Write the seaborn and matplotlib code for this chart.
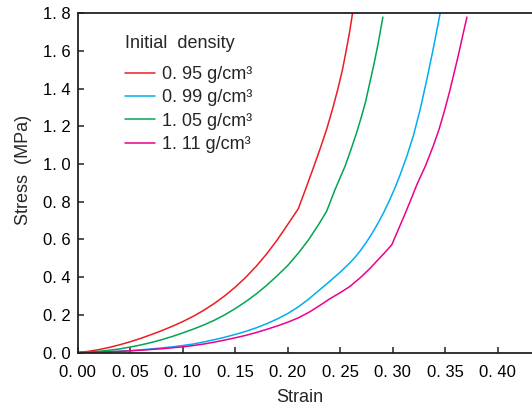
import pandas as pd
import matplotlib
matplotlib.use('Agg')
import matplotlib.pyplot as plt
import seaborn as sns

densities = ['0. 95 g/cm³', '0. 99 g/cm³', '1. 05 g/cm³', '1. 11 g/cm³']
colors = ['#ED1C24', '#00AEEF', '#00A651', '#EC008C']

# values
strain_095 = [0, 0.01, 0.02, 0.03, 0.04, 0.05, 0.06, 0.07, 0.08, 0.09, 0.10, 0.11, 0.12, 0.13, 0.14, 0.15,
              0.16, 0.17, 0.18, 0.19, 0.20, 0.21, 0.217, 0.224, 0.231, 0.237, 0.2425, 0.2475, 0.252, 0.2555,
              0.2588, 0.2616]
stress_095 = [0, 0.006, 0.015, 0.027, 0.041, 0.057, 0.075, 0.095, 0.116, 0.139, 0.164, 0.192, 0.224, 0.260,
              0.301, 0.347, 0.399, 0.458, 0.524, 0.598, 0.680, 0.763, 0.868, 0.975, 1.085, 1.185, 1.290, 1.395,
              1.500, 1.600, 1.700, 1.800]

strain_099 = [0, 0.01, 0.02, 0.03, 0.04, 0.05, 0.06, 0.07, 0.08, 0.09, 0.10, 0.11, 0.12, 0.13, 0.14, 0.15,
              0.16, 0.17, 0.18, 0.19, 0.20, 0.21, 0.22, 0.23, 0.24, 0.25, 0.259, 0.264, 0.269, 0.275, 0.28,
              0.285, 0.291, 0.296, 0.3015, 0.307, 0.313, 0.3196, 0.326, 0.332, 0.338, 0.345]
stress_099 = [0, 0.001, 0.002, 0.004, 0.007, 0.010, 0.014, 0.019, 0.024, 0.030, 0.037, 0.045, 0.056, 0.068,
              0.081, 0.096, 0.112, 0.131, 0.153, 0.178, 0.207, 0.242, 0.284, 0.331, 0.378, 0.427, 0.475, 0.505,
              0.540, 0.587, 0.630, 0.678, 0.740, 0.798, 0.867, 0.944, 1.037, 1.152, 1.290, 1.440, 1.600, 1.800]

strain_105 = [0, 0.01, 0.02, 0.03, 0.04, 0.05, 0.06, 0.07, 0.08, 0.09, 0.10, 0.11, 0.12, 0.13, 0.14, 0.15,
              0.16, 0.17, 0.18, 0.19, 0.20, 0.21, 0.22, 0.23, 0.237, 0.245, 0.2546, 0.260, 0.2657, 0.270,
              0.274, 0.278, 0.282, 0.286, 0.2905]
stress_105 = [0, 0.002, 0.006, 0.012, 0.019, 0.029, 0.040, 0.053, 0.068, 0.085, 0.104, 0.124, 0.146, 0.171,
              0.200, 0.233, 0.270, 0.311, 0.357, 0.408, 0.462, 0.527, 0.600, 0.685, 0.750, 0.865, 0.990, 1.075,
              1.170, 1.250, 1.330, 1.430, 1.530, 1.640, 1.780]

strain_111 = [0, 0.01, 0.02, 0.03, 0.04, 0.05, 0.06, 0.07, 0.08, 0.09, 0.10, 0.11, 0.12, 0.13, 0.14, 0.15,
              0.16, 0.17, 0.18, 0.19, 0.20, 0.21, 0.22, 0.23, 0.24, 0.25, 0.259, 0.269, 0.278, 0.285, 0.292,
              0.299, 0.305, 0.311, 0.317, 0.323, 0.331, 0.3387, 0.344, 0.349, 0.354, 0.3577, 0.362, 0.366,
              0.3705]
stress_111 = [0, 0.001, 0.002, 0.004, 0.006, 0.009, 0.012, 0.016, 0.020, 0.025, 0.030, 0.037, 0.045, 0.055,
              0.066, 0.078, 0.091, 0.106, 0.123, 0.141, 0.161, 0.184, 0.213, 0.248, 0.285, 0.318, 0.350, 0.397,
              0.445, 0.487, 0.528, 0.572, 0.650, 0.728, 0.809, 0.893, 0.990, 1.100, 1.185, 1.280, 1.385, 1.470,
              1.570, 1.670, 1.780]

xticks = [0, 0.05, 0.10, 0.15, 0.20, 0.25, 0.30, 0.35, 0.40]
xtick_labels = ['0. 00', '0. 05', '0. 10', '0. 15', '0. 20', '0. 25', '0. 30', '0. 35', '0. 40']
yticks = [0, 0.2, 0.4, 0.6, 0.8, 1.0, 1.2, 1.4, 1.6, 1.8]
ytick_labels = ['0. 0', '0. 2', '0. 4', '0. 6', '0. 8', '1. 0', '1. 2', '1. 4', '1. 6', '1. 8']

rows = []
for lab, xs, ys in zip(densities,
                       [strain_095, strain_099, strain_105, strain_111],
                       [stress_095, stress_099, stress_105, stress_111]):
    rows += [(lab, a, b) for a, b in zip(xs, ys)]
df = pd.DataFrame(rows, columns=['density', 'strain', 'stress'])

sns.set_theme(style='ticks')
plt.rcParams['font.family'] = ['Liberation Sans', 'DejaVu Sans']

fig = plt.figure(figsize=(5.32, 4.12), dpi=100)
ax = fig.add_axes([0.146, 0.1444, 0.8887, 0.8233])
sns.lineplot(data=df, x='strain', y='stress', hue='density', hue_order=densities,
             palette=colors, estimator=None, sort=False, lw=1.1, ax=ax)

ax.set_xlim(0, 0.45)
ax.set_ylim(0, 1.8)
ax.set_xticks(xticks)
ax.set_xticklabels(xtick_labels)
ax.set_yticks(yticks)
ax.set_yticklabels(ytick_labels)
ax.tick_params(direction='in', length=4, width=1.1, color='#222222', labelsize=12, labelcolor='black')
ax.tick_params(axis='x', pad=9)
ax.tick_params(axis='y', pad=5)
for s in ax.spines.values():
    s.set_linewidth(1.3)
    s.set_color('#222222')

ax.set_xlabel('Strain', fontsize=13)
ax.set_ylabel('Stress  (MPa)', fontsize=13)
ax.xaxis.set_label_coords(0.47, -0.108)
ax.yaxis.set_label_coords(-0.097, 0.538)

fig.text(125 / 532, 1 - 43 / 412, 'Initial  density', fontsize=13, va='center', ha='left')
ax.legend(frameon=False, loc='upper left', bbox_to_anchor=(125 / 532, 1 - 66 / 412),
          bbox_transform=fig.transFigure, borderpad=0, borderaxespad=0,
          handlelength=1.66, handletextpad=0.39, labelspacing=0.35, fontsize=13)

fig.savefig('out.png', dpi=100)
